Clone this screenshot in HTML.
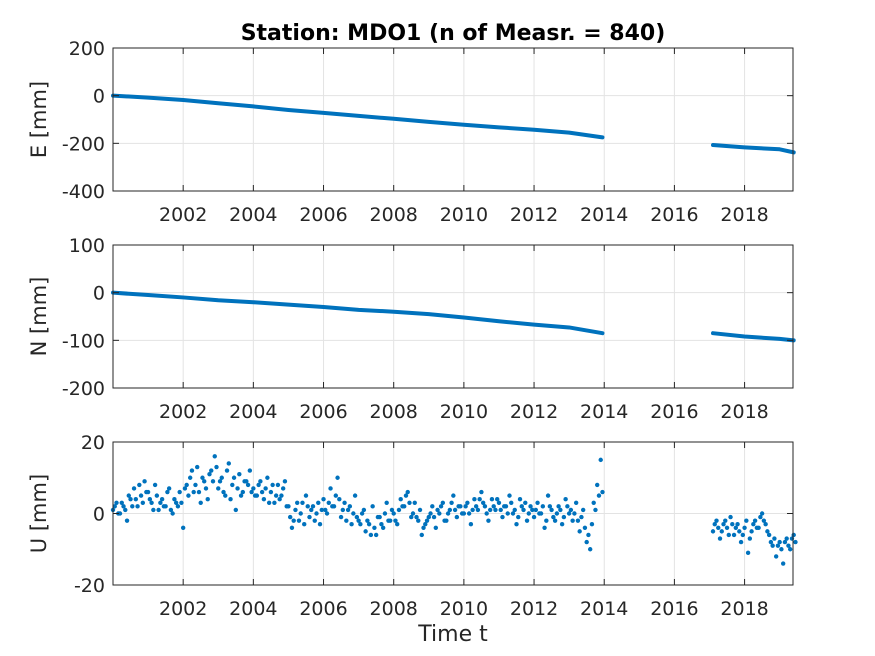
<!DOCTYPE html>
<html><head><meta charset="utf-8"><style>
html,body{margin:0;padding:0;background:#fff;}
svg{display:block;font-family:"DejaVu Sans","Liberation Sans",sans-serif;}
</style></head><body>
<svg id="fig" width="875" height="656" viewBox="0 0 875 656" xmlns="http://www.w3.org/2000/svg">
<rect width="875" height="656" fill="#fff"/>
<text x="453" y="40" text-anchor="middle" font-size="22" font-weight="bold" fill="#000">Station: MDO1 (n of Measr. = 840)</text>
<text x="453" y="641" text-anchor="middle" font-size="22" fill="#262626">Time t</text>
</svg>
<script>
const xTicks = [2002,2004,2006,2008,2010,2012,2014,2016,2018];
const eYears1 = [2000,2001,2002,2003,2004,2005,2006,2007,2008,2009,2010,2011,2012,2013,2013.95];
const eVals1 = [0,-8,-18,-32,-45,-60,-72,-85,-97,-110,-122,-133,-143,-155,-175];
const eYears2 = [2017.1,2018,2019,2019.4];
const eVals2 = [-207,-217,-225,-238];
const nYears1 = [2000,2001,2002,2003,2004,2005,2006,2007,2008,2009,2010,2011,2012,2013,2013.95];
const nVals1 = [0,-5,-10,-16,-20,-25,-30,-36,-40,-45,-52,-60,-67,-73,-85];
const nYears2 = [2017.1,2018,2019,2019.4];
const nVals2 = [-85,-92,-97,-100];
const uStart1 = 2000.0;
const uVals1 = [1,3,0,2,-2,4,7,2,5,9, 6,3,8,1,4,2,7,0,3,6, -4,8,10,6,13,3,9,4,12,16,
 7,10,5,14,8,1,11,6,9,12, 7,5,9,4,10,6,3,8,5,9, 2,-4,1,-2,3,5,-1,2,0,-3,
 4,0,7,2,10,-1,3,1,-3,5, -2,0,-5,-3,2,-6,-1,-4,3,-2, 0,-3,4,2,6,-1,3,-2,-6,-3,
 -1,2,-4,0,3,-2,1,5,-1,2, 0,3,-3,4,1,6,2,-2,4,1, 3,-1,2,5,0,-3,4,1,-2,2,
 -1,3,0,-4,5,1,-2,2,-3,4, 0,-2,3,-5,1,-8,-10,3,8,15];
const uVals1b = [2,0,3,1,5,2,4,8,3,6, 4,1,5,3,2,6,1,4,2,3, 7,5,12,8,6,10,7,11,9,13,
 9,6,12,4,10,7,5,9,8,6, 5,8,6,7,3,8,5,4,7,2, -1,-2,3,0,-3,2,1,-2,3,1,
 1,3,2,5,4,1,-2,2,0,-1, -3,1,-2,-6,-4,-1,-3,0,-2,1, -2,1,2,5,3,0,-1,1,-4,-2,
 0,-1,1,2,-2,0,3,1,2,0, 2,0,1,2,4,3,0,1,2,4, 1,2,0,3,1,-1,2,3,0,1,
 1,0,2,-2,2,-1,0,1,-1,2, 1,0,-2,-1,-4,-6,-3,1,5,6];
const uStart2 = 2017.1;
const uVals2 = [-5,-2,-7,-3,-4,-1,-6,-3,-8,-4,-11,-5,-2,-4,0,-3,-6,-9,-12,-8,-14,-7,-10,-6];
const uVals2b = [-3,-4,-5,-2,-6,-3,-4,-5,-6,-2,-7,-3,-4,-1,-2,-5,-8,-7,-9,-10,-8,-9,-7,-8];
const uStep = 0.1;

const NS="http://www.w3.org/2000/svg";
const svg=document.getElementById('fig');
const X0=2000.0,X1=2019.38,L=113,R=793;
const xs=t=>L+(t-X0)/(X1-X0)*(R-L);
const C="#0072BD";
function mk(tag,attrs,parent){const e=document.createElementNS(NS,tag);for(const k in attrs)e.setAttribute(k,attrs[k]);(parent||svg).appendChild(e);return e;}
const panels=[
 {top:48,bot:191,min:-400,max:200,ticks:[200,0,-200,-400],label:"E [mm]",key:"e"},
 {top:245,bot:388,min:-200,max:100,ticks:[100,0,-100,-200],label:"N [mm]",key:"n"},
 {top:442,bot:585,min:-20,max:20,ticks:[20,0,-20],label:"U [mm]",key:"u"}];
panels.forEach(p=>{
 const ys=v=>p.bot-(v-p.min)/(p.max-p.min)*(p.bot-p.top);
 const g=mk('g',{});
 
 
 xTicks.forEach(t=>{mk('line',{x1:xs(t),x2:xs(t),y1:p.top,y2:p.bot,stroke:'#e3e3e3','stroke-width':1},g);});
 p.ticks.forEach(v=>{mk('line',{x1:L,x2:R,y1:ys(v),y2:ys(v),stroke:'#e3e3e3','stroke-width':1},g);});
 if(p.key==='u'){
  const add=(s,arr,off)=>arr.forEach((v,i)=>{const c=mk('circle',{cx:xs(s+off+i*uStep),cy:ys(v),r:2.2,fill:C},g);
   
   });
  add(uStart1,uVals1,0);add(uStart1,uVals1b,0.05);add(uStart2,uVals2,0);add(uStart2,uVals2b,0.05);
 } else {
  const segs=p.key==='e'?[[eYears1,eVals1],[eYears2,eVals2]]:[[nYears1,nVals1],[nYears2,nVals2]];
  segs.forEach(([ty,vv])=>{const pl=mk('polyline',{points:ty.map((t,i)=>xs(t)+','+ys(vv[i])).join(' '),fill:'none',stroke:C,'stroke-width':4,'stroke-linejoin':'round','stroke-linecap':'round'},g);
   
   });
 }
 mk('rect',{x:L,y:p.top,width:R-L,height:p.bot-p.top,fill:'none',stroke:'#262626','stroke-width':1},g);
 xTicks.forEach(t=>{mk('line',{x1:xs(t),x2:xs(t),y1:p.bot,y2:p.bot-6,stroke:'#262626'},g);
  mk('line',{x1:xs(t),x2:xs(t),y1:p.top,y2:p.top+6,stroke:'#262626'},g);
  const tx=mk('text',{x:xs(t),y:p.bot+30,'text-anchor':'middle','font-size':19,fill:'#262626'},g);tx.textContent=t;
  
  });
 p.ticks.forEach(v=>{mk('line',{x1:L,x2:L+6,y1:ys(v),y2:ys(v),stroke:'#262626'},g);
  mk('line',{x1:R,x2:R-6,y1:ys(v),y2:ys(v),stroke:'#262626'},g);
  const tx=mk('text',{x:L-8,y:ys(v)+7,'text-anchor':'end','font-size':19,fill:'#262626'},g);tx.textContent=v;
  
  });
 const cy=(p.top+p.bot)/2;
 const yl=mk('text',{x:46,y:cy,'text-anchor':'middle','font-size':21,fill:'#262626',transform:`rotate(-90 46 ${cy})`},g);
 yl.textContent=p.label;
 
 
});
</script>
</body></html>
